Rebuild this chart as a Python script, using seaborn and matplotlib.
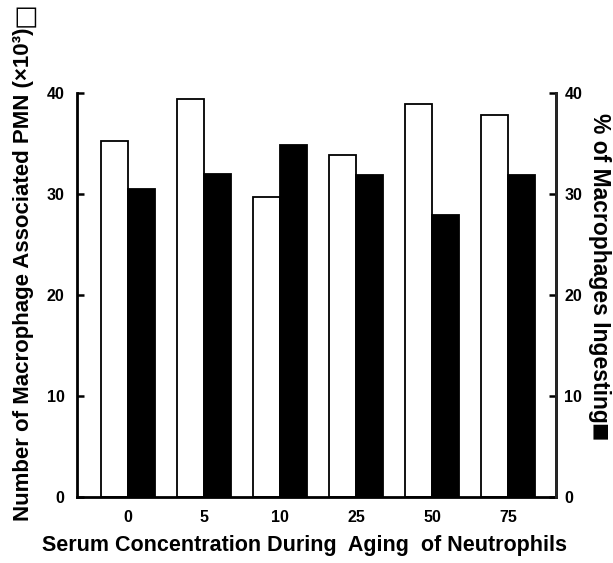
import pandas as pd
import matplotlib.pyplot as plt
import seaborn as sns

# Serum concentration during aging of neutrophils
concentrations = ['0', '5', '10', '25', '50', '75']
# Number of macrophage associated PMN (x10^3), open bars
pmn_associated = [35.2, 39.4, 29.7, 33.9, 38.9, 37.8]
# % of macrophages ingesting, filled bars
pct_ingesting = [30.5, 32.0, 34.9, 31.9, 27.9, 31.9]

df = pd.DataFrame({
    'conc': concentrations * 2,
    'value': pmn_associated + pct_ingesting,
    'series': ['PMN'] * len(concentrations) + ['Ingesting'] * len(concentrations),
})

sns.set_style('white')
plt.rcParams['font.family'] = ['Liberation Sans', 'DejaVu Sans']
plt.rcParams['font.weight'] = 'bold'
for key in ['text.color', 'axes.labelcolor', 'xtick.color', 'ytick.color']:
    plt.rcParams[key] = 'black'

fig = plt.figure(figsize=(6.13, 5.63), dpi=100)
ax = fig.add_axes([77 / 613, 1 - 497 / 563, 479 / 613, 404 / 563])

sns.barplot(data=df, x='conc', y='value', hue='series', order=concentrations,
            hue_order=['PMN', 'Ingesting'],
            palette={'PMN': 'white', 'Ingesting': 'black'},
            edgecolor='black', linewidth=1.3, width=0.72, gap=0,
            legend=False, ax=ax)

ax.set_xlim(-0.67, 5.63)
ax.set_ylim(0, 40)
ax.set_yticks([0, 10, 20, 30, 40])
ax.set_xlabel('')
ax.set_ylabel('')
ax.tick_params(axis='y', direction='in', length=5, width=1.8, labelsize=11.5, pad=9)
ax.tick_params(axis='x', length=0, labelsize=11.5, pad=9)
for lab in ax.get_xticklabels() + ax.get_yticklabels():
    lab.set_fontweight('bold')

for side in ['left', 'bottom', 'right']:
    ax.spines[side].set_visible(True)
    ax.spines[side].set_linewidth(2)
    ax.spines[side].set_color('black')
ax.spines['top'].set_visible(False)

# right axis: same 0-40 scale for % ingesting
ax2 = ax.twinx()
ax2.set_ylim(0, 40)
ax2.set_yticks([0, 10, 20, 30, 40])
ax2.tick_params(axis='y', direction='in', length=5, width=1.8, labelsize=11.5, pad=6)
for lab in ax2.get_yticklabels():
    lab.set_fontweight('bold')
for side in ['top', 'left', 'bottom']:
    ax2.spines[side].set_visible(False)
ax2.spines['right'].set_linewidth(2)

fig.text(24 / 613, 1 - 274 / 563, 'Number of Macrophage Associated PMN (×10³)',
         rotation=90, ha='center', va='center', fontsize=16, fontweight='bold')
fig.text(24 / 613, 1 - 15 / 563, '□', family='DejaVu Sans',
         rotation=90, ha='center', va='center', fontsize=19)
fig.text(600 / 613, 1 - 268 / 563, '% of Macrophages Ingesting',
         rotation=-90, ha='center', va='center', fontsize=16.5, fontweight='bold')
fig.text(599 / 613, 1 - 432 / 563, '■', family='DejaVu Sans',
         rotation=-90, ha='center', va='center', fontsize=14)
fig.text(304 / 613, 1 - 546 / 563, 'Serum Concentration During  Aging  of Neutrophils',
         ha='center', va='center', fontsize=15.5, fontweight='bold')

fig.savefig('out.png', dpi=100, facecolor='white')
